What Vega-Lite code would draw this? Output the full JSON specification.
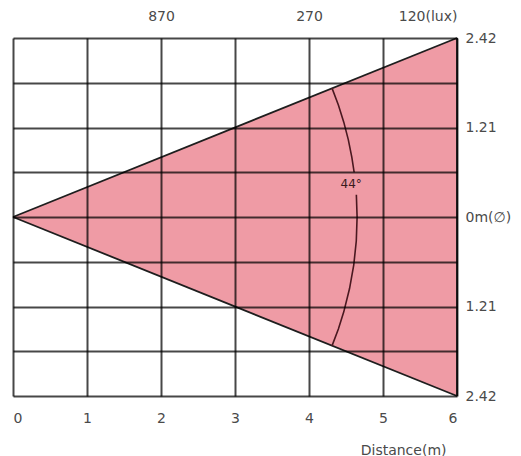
{
  "$schema": "https://vega.github.io/schema/vega-lite/v6.json",
  "width": 444,
  "height": 358,
  "autosize": {"type": "none"},
  "padding": {"left": 13, "top": 38, "right": 64, "bottom": 60},
  "background": "white",
  "config": {
    "view": {"stroke": null},
    "font": "DejaVu Sans",
    "axis": {"labelFont": "DejaVu Sans", "labelFontSize": 14, "labelColor": "#4a4a4a", "titleFont": "DejaVu Sans", "titleColor": "#4a4a4a"}
  },
  "datasets": {
    "beam": [
      {"d": 0, "top": 0, "bot": 0},
      {"d": 6, "top": 2.42, "bot": -2.42}
    ],
    "edges": [
      {"x": 0, "y": 0, "x2": 6, "y2": 2.42},
      {"x": 0, "y": 0, "x2": 6, "y2": -2.42},
      {"x": 6, "y": -2.42, "x2": 6, "y2": 2.42}
    ],
    "arc": [
      {"seg": "a", "i": 0, "x": 4.311, "y": 1.742},
      {"seg": "a", "i": 1, "x": 4.397, "y": 1.514},
      {"seg": "a", "i": 2, "x": 4.470, "y": 1.282},
      {"seg": "a", "i": 3, "x": 4.531, "y": 1.046},
      {"seg": "a", "i": 4, "x": 4.579, "y": 0.807},
      {"seg": "a", "i": 5, "x": 4.610, "y": 0.605},
      {"seg": "b", "i": 6, "x": 4.640, "y": 0.300},
      {"seg": "b", "i": 7, "x": 4.650, "y": 0.0},
      {"seg": "b", "i": 8, "x": 4.639, "y": -0.324},
      {"seg": "b", "i": 9, "x": 4.605, "y": -0.647},
      {"seg": "b", "i": 10, "x": 4.548, "y": -0.967},
      {"seg": "b", "i": 11, "x": 4.470, "y": -1.282},
      {"seg": "b", "i": 12, "x": 4.397, "y": -1.514},
      {"seg": "b", "i": 13, "x": 4.311, "y": -1.742}
    ],
    "angle": [
      {"x": 4.57, "y": 0.44, "label": "44°"}
    ]
  },
  "resolve": {"axis": {"x": "independent", "y": "independent"}},
  "layer": [
    {
      "data": {"name": "beam"},
      "mark": {"type": "area", "color": "#EF9BA5", "opacity": 1},
      "encoding": {
        "x": {
          "field": "d", "type": "quantitative",
          "scale": {"domain": [0, 6], "nice": false, "zero": false},
          "axis": {
            "orient": "bottom", "values": [0, 1, 2, 3, 4, 5, 6], "format": "d",
            "grid": true, "gridColor": "#000000", "gridOpacity": 0.72, "gridWidth": 2,
            "domain": false, "ticks": false, "labelPadding": 15, "zindex": 1,
            "title": "Distance(m)", "titleFontWeight": "normal", "titleFontSize": 14,
            "titleAnchor": "end", "titleAlign": "right", "titleX": 433, "titleY": 58, "titleBaseline": "alphabetic"
          }
        },
        "y": {
          "field": "top", "type": "quantitative",
          "scale": {"domain": [-2.42, 2.42], "nice": false, "zero": false},
          "axis": {
            "orient": "right",
            "values": [-2.42, -1.815, -1.21, -0.605, 0, 0.605, 1.21, 1.815, 2.42],
            "labelExpr": "datum.value == 0 ? '0m(∅)' : (abs(datum.value) == 2.42 ? '2.42' : (abs(datum.value) == 1.21 ? '1.21' : ''))",
            "grid": true, "gridColor": "#000000", "gridOpacity": 0.72, "gridWidth": 2,
            "domain": false, "ticks": false, "labelPadding": 8, "labelAlign": "left", "zindex": 1,
            "title": null
          }
        },
        "y2": {"field": "bot"}
      }
    },
    {
      "data": {"name": "edges"},
      "mark": {"type": "rule", "color": "#1e1e1e", "strokeWidth": 1.8},
      "encoding": {
        "x": {
          "field": "x", "type": "quantitative",
          "axis": {
            "orient": "top", "values": [2, 4, 6],
            "labelExpr": "datum.value == 2 ? '870' : (datum.value == 4 ? '270' : '120(lux)')",
            "grid": false, "domain": false, "ticks": false, "labelPadding": 15, "title": null
          }
        },
        "y": {"field": "y", "type": "quantitative", "axis": null},
        "x2": {"field": "x2"},
        "y2": {"field": "y2"}
      }
    },
    {
      "data": {"name": "arc"},
      "mark": {"type": "line", "color": "#4a1820", "strokeWidth": 1.6},
      "encoding": {
        "x": {"field": "x", "type": "quantitative", "axis": null},
        "y": {"field": "y", "type": "quantitative", "axis": null},
        "detail": {"field": "seg"},
        "order": {"field": "i", "type": "quantitative"}
      }
    },
    {
      "data": {"name": "angle"},
      "mark": {"type": "text", "font": "DejaVu Sans", "fontSize": 12, "color": "#3a1a1e"},
      "encoding": {
        "x": {"field": "x", "type": "quantitative", "axis": null},
        "y": {"field": "y", "type": "quantitative", "axis": null},
        "text": {"field": "label"}
      }
    }
  ]
}
